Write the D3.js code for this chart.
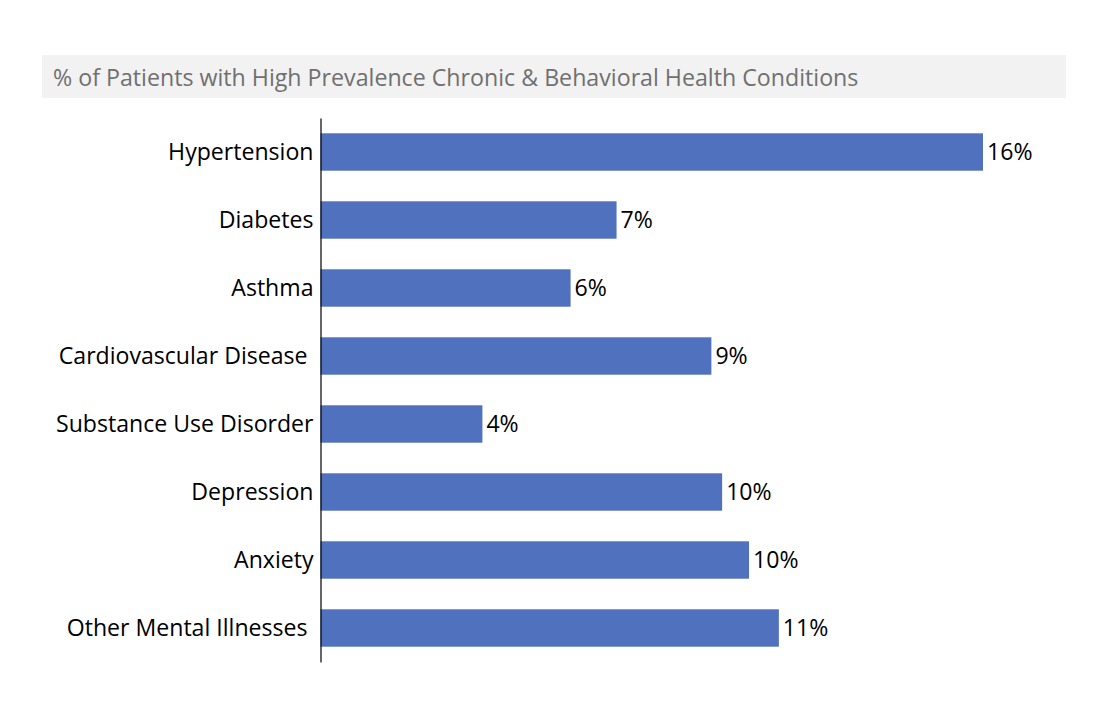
<!DOCTYPE html>
<html>
<head>
<meta charset="utf-8">
<script src="https://cdn.jsdelivr.net/npm/d3@7"></script>
<style>
  html, body { margin: 0; padding: 0; background: #ffffff; }
  svg { display: block; }
  text { white-space: pre; }
</style>
</head>
<body>
<svg id="chart" width="1100" height="714"></svg>
<script>
const titleText = "% of Patients with High Prevalence Chronic & Behavioral Health Conditions";
const categories = [
  "Hypertension",
  "Diabetes",
  "Asthma",
  "Cardiovascular Disease ",
  "Substance Use Disorder",
  "Depression",
  "Anxiety",
  "Other Mental Illnesses "
];
const values = [0.160, 0.0715, 0.0604, 0.0944, 0.0391, 0.0970, 0.1035, 0.1107];

const svg = d3.select("#chart");
const W = 1100, H = 714;
const margin = { left: 320.5, top: 118 };
const plotBottom = 662;
const pxPerUnit = 662.5 / 0.16;

svg.append("rect").attr("width", W).attr("height", H).attr("fill", "#ffffff");

// Title box
svg.append("rect")
  .attr("x", 42).attr("y", 55).attr("width", 1024).attr("height", 43)
  .attr("fill", "#f2f2f2");
svg.append("text")
  .attr("x", 53).attr("y", 85.5)
  .attr("font-family", "'Open Sans', sans-serif")
  .attr("font-size", 23.2)
  .attr("fill", "#707070")
  .text(titleText);

const xMax = 0.18;
const x = d3.scaleLinear().domain([0, xMax]).range([margin.left, margin.left + xMax * pxPerUnit]);
const y = d3.scaleBand().domain(categories).range([margin.top, plotBottom]).paddingInner(0.45).paddingOuter(0.225);

const data = categories.map((c, i) => ({ c, v: values[i] }));
const fmt = d3.format(".0%");

svg.append("g").selectAll("rect").data(data).join("rect")
  .attr("x", x(0))
  .attr("y", d => y(d.c))
  .attr("width", d => x(d.v) - x(0))
  .attr("height", y.bandwidth())
  .attr("fill", "#4f71be");

// Category axis
const yAxis = d3.axisLeft(y).tickSize(0).tickPadding(7);
const gy = svg.append("g").attr("transform", `translate(${x(0)},0)`).call(yAxis);
gy.select(".domain").attr("stroke", "#000000").attr("stroke-width", 1.2);
gy.selectAll("text")
  .attr("font-family", "'Open Sans', sans-serif")
  .attr("font-size", 23.1)
  .attr("fill", "#000000")
  .attr("dy", "0.36em");

// Value labels
svg.append("g").selectAll("text").data(data).join("text")
  .attr("x", d => x(d.v) + 4)
  .attr("y", d => y(d.c) + y.bandwidth() / 2)
  .attr("dy", "0.36em")
  .attr("font-family", "'Open Sans', sans-serif")
  .attr("font-size", 23.1)
  .attr("fill", "#000000")
  .text(d => fmt(d.v));
</script>
</body>
</html>
